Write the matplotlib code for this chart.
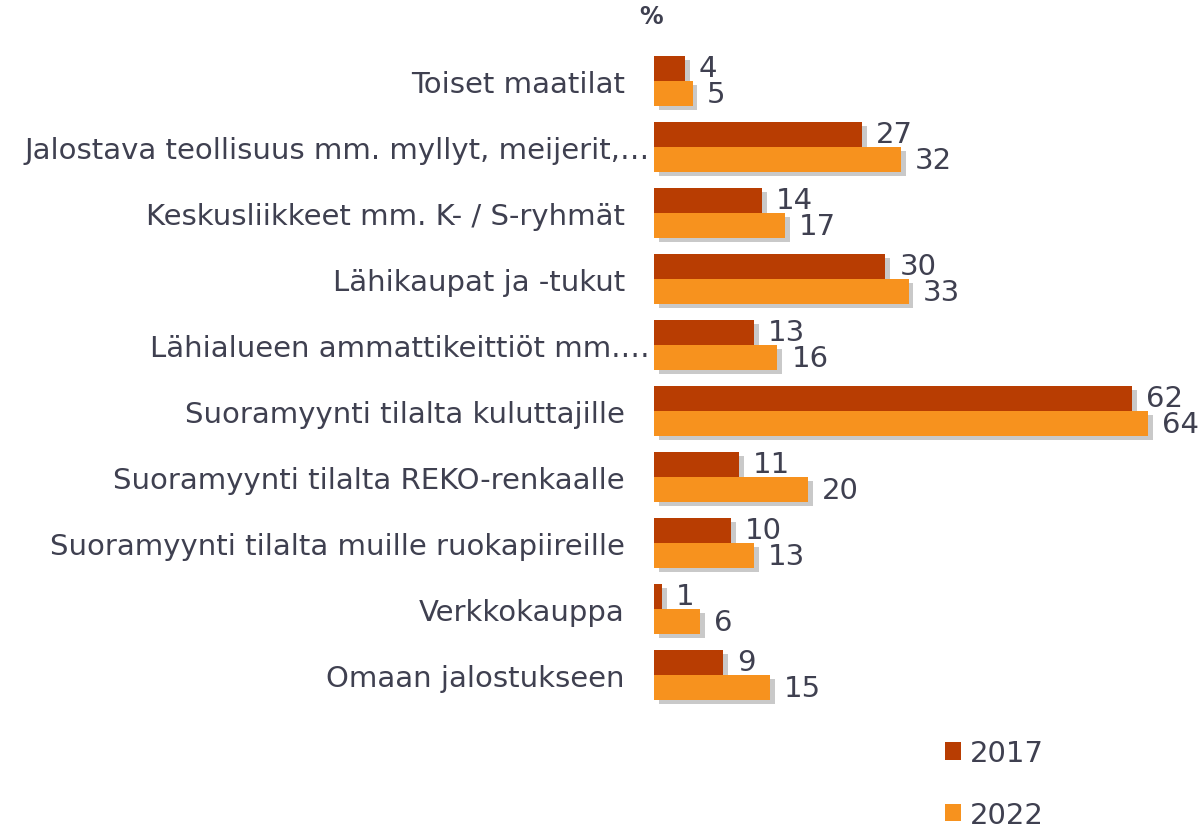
import matplotlib
matplotlib.use("Agg")
import matplotlib.pyplot as plt
import matplotlib.patheffects as pe
import matplotlib.transforms as mtransforms
from matplotlib.patches import Patch
import numpy as np

categories = [
    "Toiset maatilat",
    "Jalostava teollisuus mm. myllyt, meijerit,…",
    "Keskusliikkeet mm. K- / S-ryhmät",
    "Lähikaupat ja -tukut",
    "Lähialueen ammattikeittiöt mm.…",
    "Suoramyynti tilalta kuluttajille",
    "Suoramyynti tilalta REKO-renkaalle",
    "Suoramyynti tilalta muille ruokapiireille",
    "Verkkokauppa",
    "Omaan jalostukseen",
]
values_2017 = [4, 27, 14, 30, 13, 62, 11, 10, 1, 9]
values_2022 = [5, 32, 17, 33, 16, 64, 20, 13, 6, 15]
series_labels = ["2017", "2022"]

c2017 = "#B83D02"
c2022 = "#F7921E"
txt = "#3F4050"
fs = 21

W, H = 1202, 829
fig = plt.figure(figsize=(W / 100, H / 100), dpi=100)
ax = fig.add_axes([654 / W, 1 - 709 / H, (1194 - 654) / W, (709 - 49) / H])

y = np.arange(len(categories))
h = 0.38
shadow = [pe.SimplePatchShadow(offset=(3.5, -3), shadow_rgbFace="#7a7a7a", alpha=0.4), pe.Normal()]
b1 = ax.barh(y - h / 2, values_2017, height=h, color=c2017, path_effects=shadow, zorder=2)
b2 = ax.barh(y + h / 2, values_2022, height=h, color=c2022, path_effects=shadow, zorder=3)

ax.set_xlim(0, 70)
ax.set_ylim(len(categories) - 0.5, -0.5)
ax.set_yticks(y)
ax.set_yticklabels(categories, fontsize=fs, color=txt)
ax.tick_params(axis="y", length=0, pad=21)
ax.set_xticks([])
for s in ax.spines.values():
    s.set_visible(False)

# truncated labels overflow to the right as in the original
shift = mtransforms.ScaledTranslation(25 / 100, 0, fig.dpi_scale_trans)
for lab in ax.get_yticklabels():
    if lab.get_text().endswith("…"):
        lab.set_transform(lab.get_transform() + shift)

for bars, vals in ((b1, values_2017), (b2, values_2022)):
    for rect, v in zip(bars, vals):
        ax.annotate(str(v), (rect.get_width(), rect.get_y() + rect.get_height() / 2),
                    xytext=(10, 0), textcoords="offset points", va="center", ha="left",
                    fontsize=fs, color=txt, zorder=5, annotation_clip=False)

fig.text(651 / W, 1 - 17 / H, "%", fontsize=17, fontweight="bold", color=txt, ha="center", va="center")

handles = [Patch(facecolor=c2017, edgecolor="none"), Patch(facecolor=c2022, edgecolor="none")]
fig.legend(handles, series_labels, loc="center left", bbox_to_anchor=(945 / W, 1 - 785 / H),
           frameon=False, fontsize=fs, labelcolor=txt, labelspacing=1.15,
           handlelength=0.55, handleheight=0.55, handletextpad=0.3,
           borderpad=0, borderaxespad=0)

fig.savefig("out.png", dpi=100)
